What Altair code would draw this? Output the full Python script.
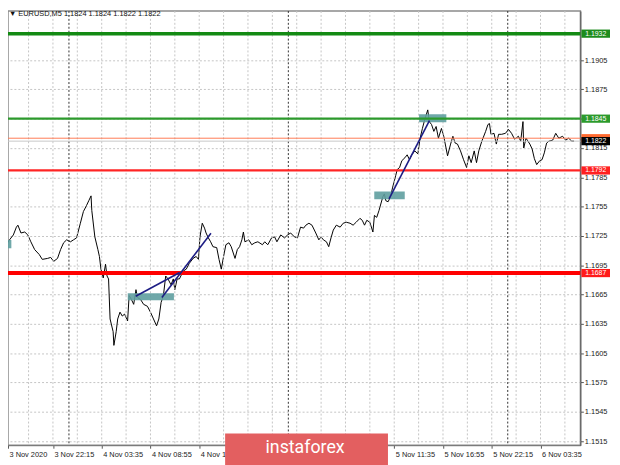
import altair as alt
import pandas as pd

# ---- price series (minutes since 3 Nov 00:00, EURUSD M5 close) ----
time_min = [1030, 1050, 1075, 1095, 1105, 1125, 1150, 1170, 1190, 1215, 1245, 1265, 1300, 1320, 1340, 1365,
            1385, 1405, 1425, 1450, 1470, 1490, 1515, 1535, 1555, 1570, 1585, 1590, 1610, 1630, 1640, 1650,
            1665, 1680, 1690, 1700, 1710, 1730, 1735, 1750, 1760, 1775, 1790, 1805, 1825, 1835, 1850, 1865,
            1880, 1890, 1910, 1930, 1955, 1975, 1995, 2015, 2030, 2045, 2060, 2075, 2090, 2110, 2125, 2135,
            2150, 2165, 2190, 2210, 2230, 2255, 2275, 2290, 2300, 2315, 2330, 2340, 2355, 2370, 2385, 2410,
            2425, 2440, 2455, 2470, 2490, 2505, 2530, 2545, 2560, 2575, 2585, 2595, 2620, 2640, 2660, 2680,
            2710, 2725, 2745, 2770, 2790, 2805, 2830, 2855, 2875, 2895, 2920, 2940, 2960, 2980, 2995, 3015,
            3035, 3060, 3080, 3095, 3110, 3130, 3145, 3160, 3175, 3195, 3220, 3240, 3260, 3285, 3305, 3325,
            3350, 3365, 3380, 3395, 3415, 3435, 3445, 3460, 3475, 3500, 3510, 3520, 3535, 3550, 3565, 3585,
            3595, 3610, 3625, 3645, 3660, 3675, 3690, 3710, 3730, 3745, 3760, 3775, 3795, 3805, 3820, 3835,
            3850, 3865, 3885, 3900, 3925, 3945, 3960, 3975, 3990, 4010, 4030, 4050, 4065, 4080, 4100, 4115,
            4130, 4150, 4175, 4190, 4200, 4210, 4230, 4245, 4260, 4280, 4305, 4325, 4345, 4365, 4390, 4405,
            4420, 4425, 4440, 4465, 4480, 4495, 4510, 4530, 4545, 4560, 4575, 4590, 4615, 4635, 4655, 4680,
            4700, 4720, 4740, 4755]
price = [1.1716, 1.1721, 1.1726, 1.1734, 1.1736, 1.1728, 1.1729, 1.1726, 1.1719, 1.1711, 1.1706, 1.1701,
         1.1702, 1.1703, 1.1699, 1.1702, 1.1711, 1.1718, 1.1721, 1.1719, 1.1721, 1.1723, 1.1738, 1.1750,
         1.1756, 1.1761, 1.1766, 1.1751, 1.1724, 1.1711, 1.1704, 1.1691, 1.1682, 1.1696, 1.1684, 1.1681,
         1.1640, 1.1627, 1.1613, 1.1627, 1.1640, 1.1647, 1.1643, 1.1645, 1.1638, 1.1664, 1.1660, 1.1655,
         1.1670, 1.1662, 1.1660, 1.1655, 1.1653, 1.1647, 1.1640, 1.1633, 1.1640, 1.1657, 1.1664, 1.1684,
         1.1681, 1.1675, 1.1681, 1.1670, 1.1681, 1.1681, 1.1689, 1.1691, 1.1697, 1.1702, 1.1704, 1.1701,
         1.1724, 1.1738, 1.1733, 1.1728, 1.1723, 1.1719, 1.1714, 1.1713, 1.1701, 1.1691, 1.1704, 1.1716,
         1.1718, 1.1714, 1.1702, 1.1711, 1.1714, 1.1721, 1.1729, 1.1719, 1.1721, 1.1716, 1.1718, 1.1719,
         1.1716, 1.1719, 1.1716, 1.1723, 1.1724, 1.1719, 1.1726, 1.1723, 1.1726, 1.1728, 1.1724, 1.1723,
         1.1734, 1.1733, 1.1736, 1.1738, 1.1736, 1.1728, 1.1721, 1.1724, 1.1721, 1.1719, 1.1714, 1.1723,
         1.1731, 1.1736, 1.1734, 1.1738, 1.1739, 1.1738, 1.1736, 1.1739, 1.1743, 1.1741, 1.1736, 1.1741,
         1.1739, 1.1729, 1.1746, 1.1744, 1.1751, 1.1765, 1.1768, 1.1761, 1.1760, 1.1765, 1.1775, 1.1787,
         1.1793, 1.1795, 1.1802, 1.1805, 1.1808, 1.1803, 1.1808, 1.1812, 1.1809, 1.1825, 1.1835, 1.1844,
         1.1854, 1.1842, 1.1839, 1.1832, 1.1837, 1.1825, 1.1835, 1.1827, 1.1807, 1.1819, 1.1827, 1.1820,
         1.1819, 1.1812, 1.1803, 1.1795, 1.1807, 1.1800, 1.1812, 1.1800, 1.1812, 1.1822, 1.1832, 1.1839,
         1.1840, 1.1829, 1.1830, 1.1819, 1.1829, 1.1829, 1.1830, 1.1834, 1.1830, 1.1824, 1.1827, 1.1822,
         1.1842, 1.1815, 1.1825, 1.1819, 1.1814, 1.1804, 1.1798, 1.1802, 1.1803, 1.1810, 1.1820, 1.1822,
         1.1823, 1.1830, 1.1825, 1.1827, 1.1823, 1.1825, 1.1822, 1.1822]

# ---- axes ----
# first label marks the first visible bar (left edge), the rest every 5h20m
tick_minutes = [1040, 1335, 1655, 1975, 2295, 2615, 2935, 3255, 3575, 3895, 4215, 4535]
# labels under the instaforex banner are not visible in the original
tick_labels = ["3 Nov 2020", "3 Nov 22:15", "4 Nov 03:35", "4 Nov 08:55", "4 Nov 14:15", "",
               "", "", "5 Nov 11:35", "5 Nov 16:55", "5 Nov 22:15", "6 Nov 03:35"]
grid_minutes = [1175, 1335, 1495, 1655, 1815, 1975, 2135, 2295, 2455, 2615, 2775, 2935, 3095, 3255,
                3415, 3575, 3735, 3895, 4055, 4215, 4375, 4535, 4695]
day_separators = [1440, 2880, 4320]
price_ticks = [1.1515, 1.1545, 1.1575, 1.1605, 1.1635, 1.1665, 1.1695, 1.1725, 1.1755, 1.1785,
               1.1815, 1.1845, 1.1875, 1.1905]

# ---- horizontal levels ----
level_prices = [1.1932, 1.1845, 1.1792, 1.1687]
level_colors = ["#138a13", "#2c9a2c", "#ff2424", "#ff0000"]
level_widths = [3.5, 2.2, 2.2, 4]
bid_price = 1.1822
marker_price = 1.1825

# ---- price tags on the right ----
tag_prices = [1.1932, 1.1845, 1.1822, 1.1792, 1.1687]
tag_texts = ["1.1932", "1.1845", "1.1822", "1.1792", "1.1687"]
tag_colors = ["#1d8c1d", "#2c9a2c", "#000000", "#ff2020", "#ff1a1a"]
marker_tag_color = "#ff6a30"

# ---- rectangles & trend lines ----
box_t0 = [900, 1826, 3444, 3738]
box_t1 = [1062, 2129, 3644, 3917]
box_p0 = [1.17125, 1.16593, 1.17626, 1.18414]
box_p1 = [1.17209, 1.16664, 1.17704, 1.18495]

trend_t0 = [1878, 2050, 3541]
trend_t1 = [2167, 2372, 3806]
trend_p0 = [1.16633, 1.16620, 1.17630]
trend_p1 = [1.16876, 1.17277, 1.18431]

FONT = "Liberation Sans"
xscale = alt.Scale(domain=[1040, 4797], nice=False, zero=False)
yscale = alt.Scale(domain=[1.15108, 1.19552], nice=False, zero=False)

label_expr = "''"
for t, l in reversed(list(zip(tick_minutes, tick_labels))):
    label_expr = f"datum.value == {t} ? '{l}' : ({label_expr})"

xaxis = alt.Axis(
    values=tick_minutes, labelExpr=label_expr, grid=False, title=None,
    labelAlign="left", labelOffset=1, labelFlush=False,
    labelOverlap=False, tickSize=3, tickColor="#555555", labelFontSize=7.5,
    labelFont=FONT, labelColor="#222222", labelPadding=2, domainColor="#777777")
yaxis = alt.Axis(
    orient="right", values=price_ticks, format=".4f", title=None, grid=True,
    gridColor="#c4c4c4", gridDash=[2, 2], tickSize=3, tickColor="#555555",
    labelPadding=1, labelFontSize=7.5, labelFont=FONT, labelColor="#222222",
    labelOverlap=False, labelFlush=False, domainColor="#555555")


def X(f):
    return alt.X(f, scale=xscale, axis=xaxis, title=None)


def Y(f):
    return alt.Y(f, scale=yscale, axis=yaxis, title=None)


series = pd.DataFrame({"t": time_min, "p": price})
line = alt.Chart(series).mark_line(color="#000000", strokeWidth=1, clip=True).encode(
    x=X("t:Q"), y=Y("p:Q"))

vgrid = alt.Chart(pd.DataFrame({"t": grid_minutes})).mark_rule(
    color="#c4c4c4", strokeDash=[2, 2], strokeWidth=1, clip=True
).encode(x=X("t:Q"))

days = alt.Chart(pd.DataFrame({"t": day_separators})).mark_rule(
    color="#303030", strokeDash=[2, 2], strokeWidth=1, clip=True
).encode(x=X("t:Q"))

boxes = alt.Chart(pd.DataFrame({"t": box_t0, "t1": box_t1, "p": box_p0, "p1": box_p1})).mark_rect(
    color="#5F9EA0", opacity=0.9, clip=True
).encode(x=X("t:Q"), x2="t1:Q", y=Y("p:Q"), y2="p1:Q")

extra_lines = alt.Chart(pd.DataFrame({"p": [bid_price, marker_price], "c": ["#c8c8c8", "#ff7b54"]})).mark_rule(
    strokeWidth=1
).encode(y=Y("p:Q"), color=alt.Color("c:N", scale=None))

levels = alt.Chart(pd.DataFrame({"p": level_prices, "c": level_colors, "w": level_widths})).mark_rule().encode(
    y=Y("p:Q"),
    color=alt.Color("c:N", scale=None),
    strokeWidth=alt.StrokeWidth("w:Q", scale=None),
)

trends = alt.Chart(pd.DataFrame({"t": trend_t0, "t1": trend_t1, "p": trend_p0, "p1": trend_p1})).mark_rule(
    color="#1c1c84", strokeWidth=1.6, clip=True
).encode(x=X("t:Q"), x2="t1:Q", y=Y("p:Q"), y2="p1:Q")

marker_tag = alt.Chart(pd.DataFrame({"p": [marker_price]})).transform_calculate(
    p1="datum.p + 0.00042", p2="datum.p - 0.00042"
).mark_rect(color=marker_tag_color).encode(
    x=alt.value(581), x2=alt.value(610), y=Y("p1:Q"), y2="p2:Q")

tags_df = pd.DataFrame({"p": tag_prices, "txt": tag_texts, "c": tag_colors})
tag_boxes = alt.Chart(tags_df).transform_calculate(
    p1="datum.p + 0.00042", p2="datum.p - 0.00042"
).mark_rect().encode(
    x=alt.value(581), x2=alt.value(610),
    y=Y("p1:Q"), y2="p2:Q",
    color=alt.Color("c:N", scale=None),
)
tag_text = alt.Chart(tags_df).mark_text(
    color="#ffffff", fontSize=7, font=FONT, align="center", baseline="middle"
).encode(x=alt.value(595.5), y=Y("p:Q"), text="txt:N")

one = pd.DataFrame({"a": [0]})
title = alt.Chart(one).mark_text(
    align="left", baseline="middle", fontSize=7.5, font=FONT, color="#111111"
).encode(x=alt.value(1), y=alt.value(3.5), text=alt.value("\u25bc EURUSD,M5  1.1824 1.1824 1.1822 1.1822"))

banner = alt.Chart(one).mark_rect(color="#e35f60").encode(
    x=alt.value(220), x2=alt.value(385), y=alt.value(428), y2=alt.value(462)
)
banner_text = alt.Chart(one).mark_text(
    align="center", baseline="alphabetic", fontSize=18, font="Roboto", color="#ffffff"
).encode(x=alt.value(301), y=alt.value(448), text=alt.value("instaforex"))

chart = alt.layer(
    line, vgrid, days, boxes, extra_lines, levels, trends, marker_tag, tag_boxes, tag_text,
    title, banner, banner_text
).properties(
    width=580, height=440,
    autosize=alt.AutoSizeParams(type="none"),
    padding={"left": 0, "top": 0, "right": 32, "bottom": 17},
    background="#ffffff",
).configure_view(stroke="#8a8a8a", strokeWidth=1.5)

chart.save("out.html", embed_options={"renderer": "svg", "actions": False})
